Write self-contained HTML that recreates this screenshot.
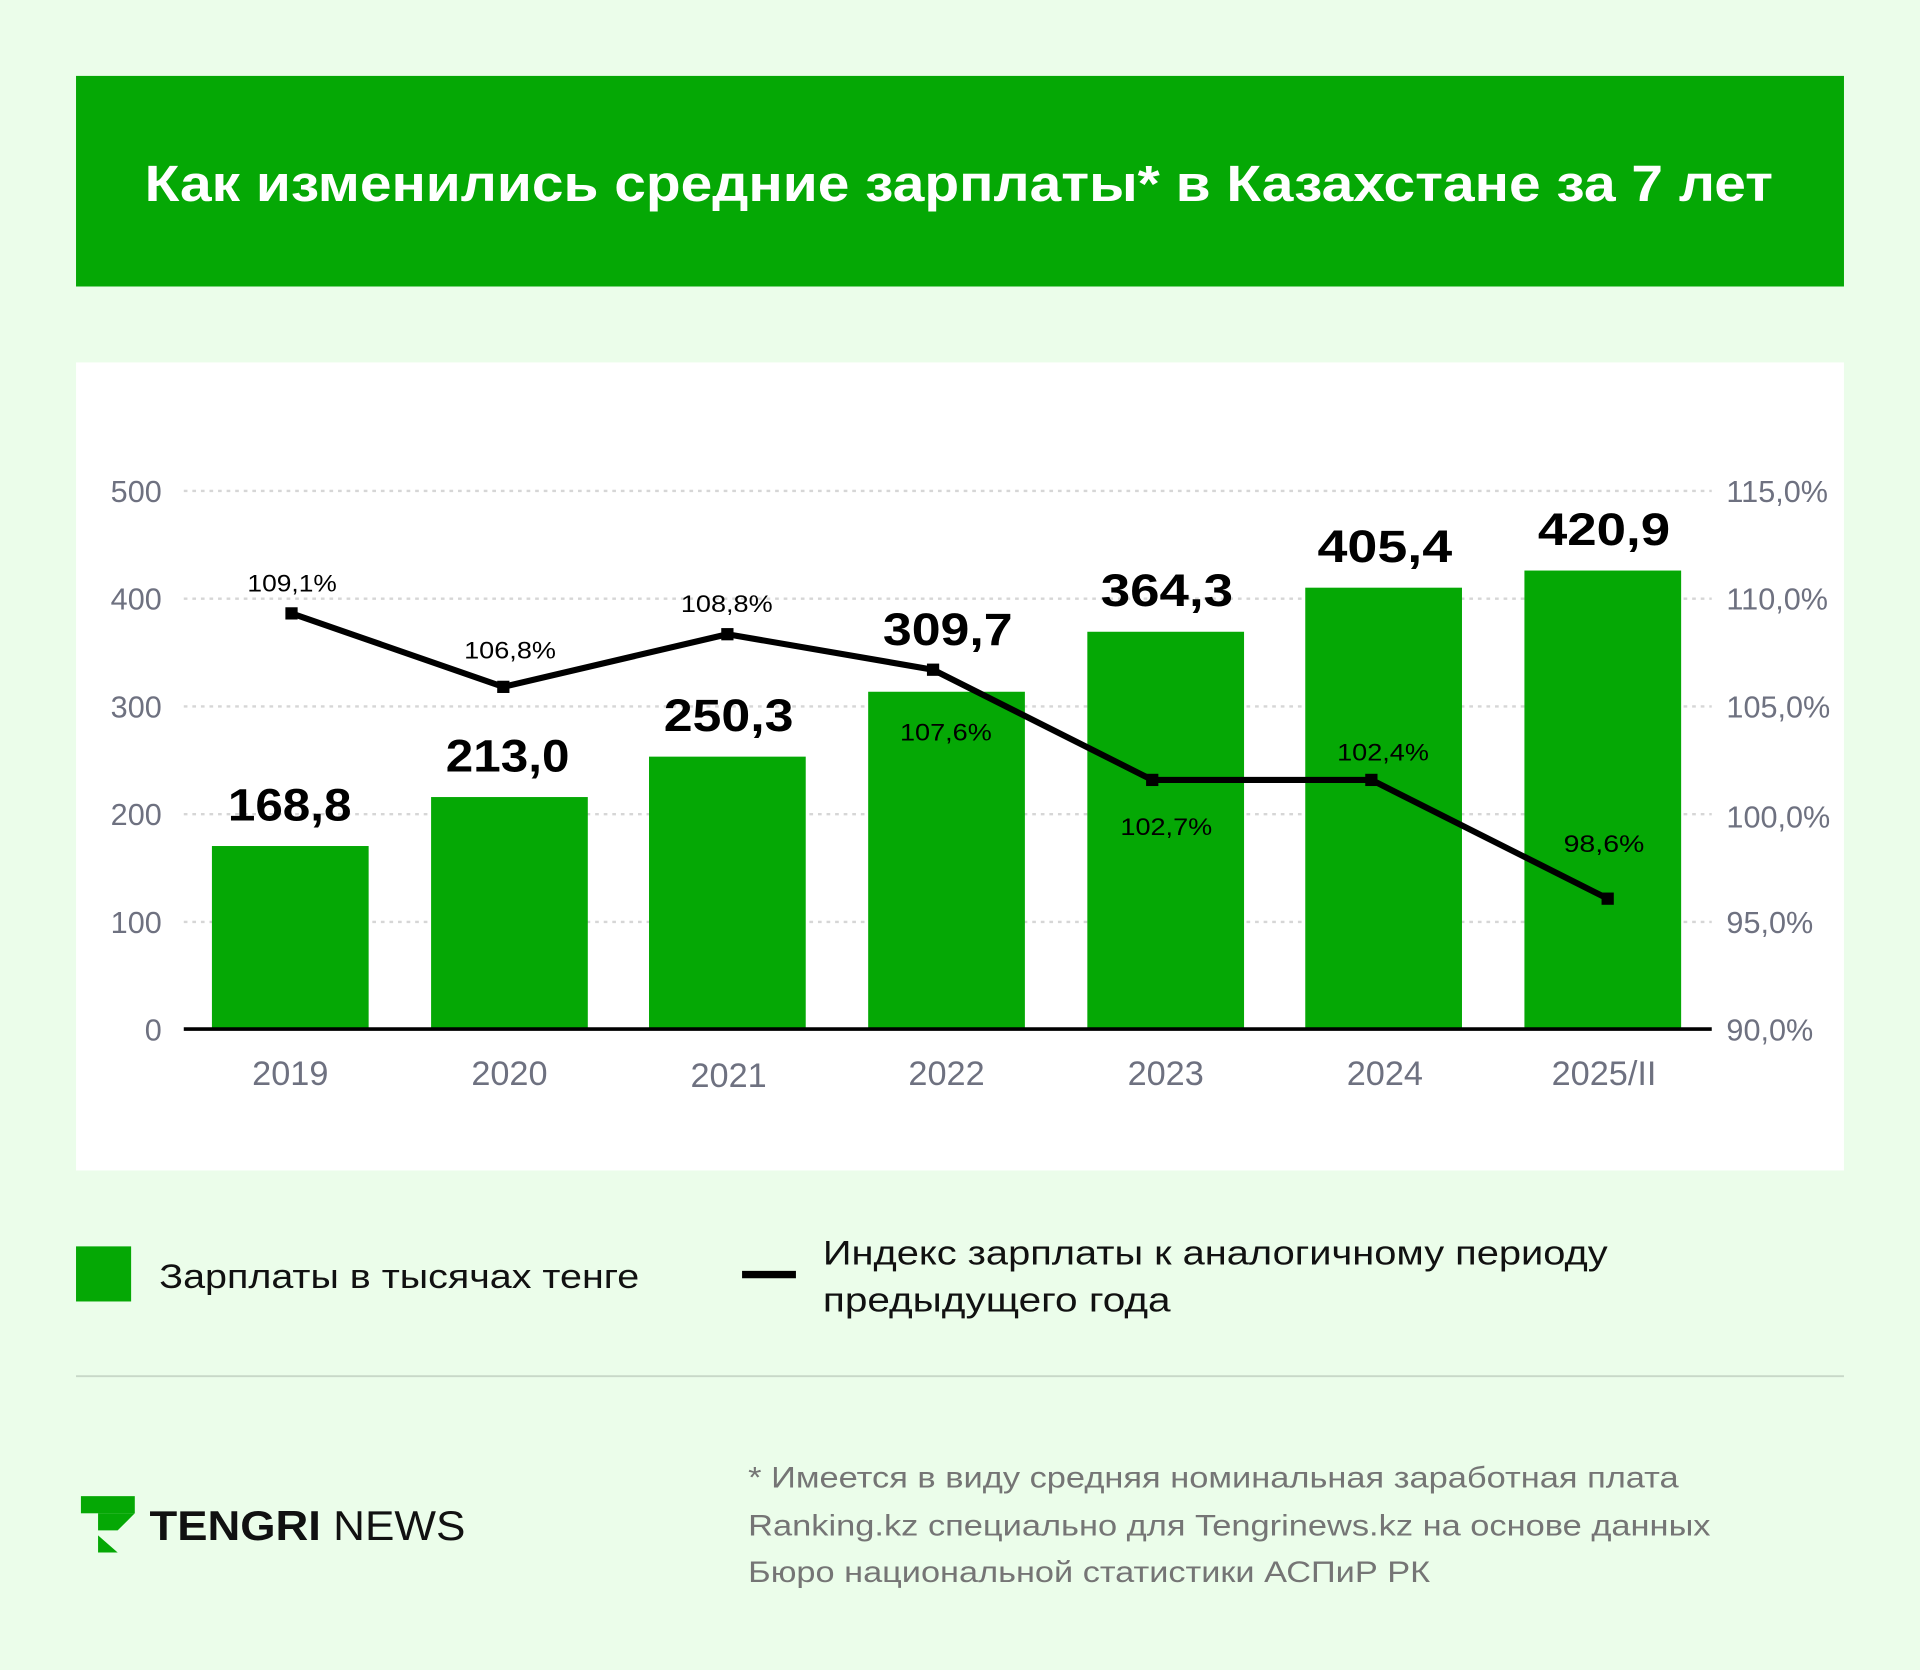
<!DOCTYPE html>
<html><head><meta charset="utf-8"><style>
html,body{margin:0;padding:0;background:#ebfdea;}
svg{display:block;}
text{font-family:"Liberation Sans",sans-serif;}
</style></head><body>
<svg width="1920" height="1670" viewBox="0 0 1568 1364" xmlns="http://www.w3.org/2000/svg">
<rect x="0" y="0" width="1568" height="1364" fill="#ebfdea"/>
<rect x="62" y="62" width="1444" height="172" fill="#05a805"/>
<text x="118" y="164" textLength="1330" lengthAdjust="spacingAndGlyphs" fill="#fff" font-size="42" font-weight="bold">Как изменились средние зарплаты* в Казахстане за 7 лет</text>
<rect x="62" y="296" width="1444" height="660" fill="#fff"/>
<g stroke="#d6d6d6" stroke-width="2" stroke-dasharray="3,4">
<line x1="150" y1="401" x2="1398" y2="401"/><line x1="150" y1="489" x2="1398" y2="489"/><line x1="150" y1="577" x2="1398" y2="577"/><line x1="150" y1="665" x2="1398" y2="665"/><line x1="150" y1="753" x2="1398" y2="753"/>
</g>
<g fill="#6e7180" font-size="25" text-anchor="end">
<text x="132" y="410">500</text><text x="132" y="498">400</text><text x="132" y="586">300</text><text x="132" y="674">200</text><text x="132" y="762">100</text><text x="132" y="850">0</text>
</g>
<g fill="#6e7180" font-size="25">
<text x="1410" y="410">115,0%</text><text x="1410" y="498">110,0%</text><text x="1410" y="586">105,0%</text><text x="1410" y="676">100,0%</text><text x="1410" y="762">95,0%</text><text x="1410" y="850">90,0%</text>
</g>
<g fill="#05a805">
<rect x="173" y="691" width="128" height="149"/><rect x="352" y="651" width="128" height="189"/><rect x="530" y="618" width="128" height="222"/><rect x="709" y="565" width="128" height="275"/><rect x="888" y="516" width="128" height="324"/><rect x="1066" y="480" width="128" height="360"/><rect x="1245" y="466" width="128" height="374"/>
</g>
<line x1="150" y1="840.5" x2="1398" y2="840.5" stroke="#000" stroke-width="3"/>
<g fill="#6e7180" font-size="28" text-anchor="middle">
<text x="237" y="886">2019</text><text x="416" y="886">2020</text><text x="595" y="888">2021</text><text x="773" y="886">2022</text><text x="952" y="886">2023</text><text x="1131" y="886">2024</text><text x="1310" y="886">2025/II</text>
</g>
<g fill="#000" font-size="37" font-weight="bold" lengthAdjust="spacingAndGlyphs">
<text x="186" y="670" textLength="101" lengthAdjust="spacingAndGlyphs">168,8</text><text x="364" y="630" textLength="101" lengthAdjust="spacingAndGlyphs">213,0</text><text x="542" y="597" textLength="106" lengthAdjust="spacingAndGlyphs">250,3</text><text x="721" y="527" textLength="106" lengthAdjust="spacingAndGlyphs">309,7</text><text x="899" y="495" textLength="108" lengthAdjust="spacingAndGlyphs">364,3</text><text x="1076" y="459" textLength="110" lengthAdjust="spacingAndGlyphs">405,4</text><text x="1256" y="445" textLength="108" lengthAdjust="spacingAndGlyphs">420,9</text>
</g>
<polyline points="238,501 411,561 594,518 762,547 941,637 1120,637 1313,734" fill="none" stroke="#000" stroke-width="5" stroke-linejoin="round"/>
<g fill="#000">
<rect x="233" y="496" width="10" height="10"/><rect x="406" y="556" width="10" height="10"/><rect x="589" y="513" width="10" height="10"/><rect x="757" y="542" width="10" height="10"/><rect x="936" y="632" width="10" height="10"/><rect x="1115" y="632" width="10" height="10"/><rect x="1308" y="729" width="10" height="10"/>
</g>
<g fill="#000" font-size="20">
<text x="202" y="483" textLength="73" lengthAdjust="spacingAndGlyphs">109,1%</text><text x="379" y="538" textLength="75" lengthAdjust="spacingAndGlyphs">106,8%</text><text x="556" y="500" textLength="75" lengthAdjust="spacingAndGlyphs">108,8%</text><text x="735" y="605" textLength="75" lengthAdjust="spacingAndGlyphs">107,6%</text><text x="915" y="682" textLength="75" lengthAdjust="spacingAndGlyphs">102,7%</text><text x="1092" y="621" textLength="75" lengthAdjust="spacingAndGlyphs">102,4%</text><text x="1277" y="696" textLength="66" lengthAdjust="spacingAndGlyphs">98,6%</text>
</g>
<rect x="62" y="1018" width="45" height="45" fill="#05a805"/>
<text x="130" y="1052" font-size="28" fill="#111" textLength="392" lengthAdjust="spacingAndGlyphs">Зарплаты в тысячах тенге</text>
<line x1="606" y1="1041" x2="650" y2="1041" stroke="#000" stroke-width="6"/>
<text x="672" y="1033" font-size="28" fill="#111" textLength="641" lengthAdjust="spacingAndGlyphs">Индекс зарплаты к аналогичному периоду</text>
<text x="672" y="1071" font-size="28" fill="#111" textLength="284" lengthAdjust="spacingAndGlyphs">предыдущего года</text>
<line x1="62" y1="1124" x2="1506" y2="1124" stroke="#c8d8c8" stroke-width="1.5"/>
<g fill="#05a805">
<rect x="66" y="1222" width="44" height="14"/>
<polygon points="80,1236 110,1236 96,1250 80,1250"/>
<polygon points="80,1254 80,1268 96,1268"/>
</g>
<text x="122" y="1258" font-size="34" font-weight="bold" fill="#111" textLength="140" lengthAdjust="spacingAndGlyphs">TENGRI</text>
<text x="272" y="1258" font-size="34" fill="#111" textLength="108" lengthAdjust="spacingAndGlyphs">NEWS</text>
<g fill="#757575" font-size="24">
<text x="611" y="1215" textLength="760" lengthAdjust="spacingAndGlyphs">* Имеется в виду средняя номинальная заработная плата</text>
<text x="611" y="1254" textLength="786" lengthAdjust="spacingAndGlyphs">Ranking.kz специально для Tengrinews.kz на основе данных</text>
<text x="611" y="1292" textLength="557" lengthAdjust="spacingAndGlyphs">Бюро национальной статистики АСПиР РК</text>
</g>
</svg>
</body></html>
